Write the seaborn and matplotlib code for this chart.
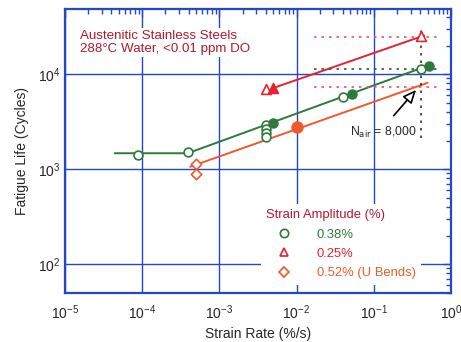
import numpy as np
import pandas as pd
import seaborn as sns
import matplotlib.pyplot as plt

# strain amplitude 0.38 %
green_open_x = [8.8e-5, 3.9e-4, 4.0e-3, 4.0e-3, 4.0e-3, 4.0e-3, 0.040, 0.41]
green_open_y = [1410, 1520, 2930, 2650, 2410, 2190, 5770, 11400]
green_fill_x = [4.9e-3, 0.052, 0.52]
green_fill_y = [3070, 6200, 12200]
green_line_x = [4.4e-5, 3.9e-4, 0.55]
green_line_y = [1470, 1470, 12600]

# strain amplitude 0.25 %
red_open_x = [4.0e-3, 0.41]
red_open_y = [7000, 25000]
red_fill_x = [4.9e-3]
red_fill_y = [7100]
red_line_x = [4.9e-3, 0.45]
red_line_y = [7100, 25500]

# strain amplitude 0.52 % (U bends)
orange_open_x = [5.0e-4, 5.0e-4]
orange_open_y = [1130, 890]
orange_fill_x = [0.010]
orange_fill_y = [2770]
orange_line_x = [4.2e-4, 0.50]
orange_line_y = [1060, 8100]

# reference lines
ref_x = [0.017, 0.70]
ref_red_hi = 24700
ref_green = 11400
ref_red_lo = 7350
nair_x = 0.41
nair_y = [2140, 32000]

GREEN = '#2c7a3c'
RED = '#e52330'
ORANGE = '#f05a2a'
DKRED = '#b3182d'
BLUE = '#2447c4'

sns.set_style('white')
plt.rcParams['font.family'] = ['Liberation Sans', 'DejaVu Sans']

fig = plt.figure(figsize=(4.61, 3.42), dpi=100)
ax = fig.add_axes([0.141, 0.144, 0.837, 0.830])
ax.set_xscale('log')
ax.set_yscale('log')

def line(xs, ys, color, **kw):
    df = pd.DataFrame({'x': xs, 'y': ys})
    sns.lineplot(data=df, x='x', y='y', color=color, estimator=None, sort=False, ax=ax, **kw)

line(green_line_x, green_line_y, GREEN, lw=1.4)
line(red_line_x, red_line_y, RED, lw=1.4)
line(orange_line_x, orange_line_y, ORANGE, lw=1.4)

# dotted guides
line(ref_x, [ref_red_hi] * 2, '#f0506a', lw=1.2, linestyle=(0, (1.5, 3)))
line(ref_x, [ref_green] * 2, '#2a5a3a', lw=1.2, linestyle=(0, (1.5, 3)))
line(ref_x, [ref_red_lo] * 2, '#f0506a', lw=1.2, linestyle=(0, (1.5, 3)))
line([nair_x, nair_x], nair_y, '#333333', lw=1.2, linestyle=(0, (1.5, 3)))

def pts(xs, ys, marker, color, filled, size=40):
    df = pd.DataFrame({'x': xs, 'y': ys})
    sns.scatterplot(data=df, x='x', y='y', marker=marker, s=size, ax=ax, zorder=5,
                    facecolor=color if filled else 'white', edgecolor=color, linewidth=1.2)

pts(green_open_x, green_open_y, 'o', GREEN, False)
pts(green_fill_x, green_fill_y, 'o', GREEN, True)
pts(red_open_x, red_open_y, '^', RED, False, 50)
pts(red_fill_x, red_fill_y, '^', RED, True, 50)
pts(orange_open_x, orange_open_y, 'D', ORANGE, False, 28)
pts(orange_fill_x, orange_fill_y, 'o', ORANGE, True, 60)

ax.set_xlim(1e-5, 1)
ax.set_ylim(50, 48600)
ax.grid(True, which='major', color=BLUE, lw=1.0)
for s in ax.spines.values():
    s.set_color(BLUE)
    s.set_linewidth(1.6)
ax.tick_params(which='both', direction='in', top=True, right=True, color=BLUE, labelsize=10)
ax.tick_params(which='major', length=6, width=1)
ax.tick_params(which='minor', length=3.5, width=1)
ax.tick_params(axis='x', pad=8)
ax.set_xlabel('Strain Rate (%/s)', fontsize=10, labelpad=3)
ax.set_ylabel('Fatigue Life (Cycles)', fontsize=10, labelpad=6)

ax.text(0.039, 0.925, 'Austenitic Stainless Steels\n288°C Water, <0.01 ppm DO',
        transform=ax.transAxes, color=DKRED, fontsize=9.6, va='top', linespacing=1.05,
        bbox=dict(facecolor='white', edgecolor='none', pad=1.5))

ax.annotate('', xy=(0.374, 7180), xytext=(0.172, 3470),
            arrowprops=dict(arrowstyle='-|>,head_length=0.8,head_width=0.35', fc='white', ec='black', lw=1.2))
ax.text(0.049, 2450, 'N$_{\\mathrm{air}}$ = 8,000', fontsize=8.8, va='center')

handles = [
    plt.Line2D([], [], ls='', marker='o', mfc='white', mec=GREEN, mew=1.2, ms=6),
    plt.Line2D([], [], ls='', marker='^', mfc='white', mec=RED, mew=1.2, ms=6),
    plt.Line2D([], [], ls='', marker='D', mfc='white', mec=ORANGE, mew=1.2, ms=5),
]
leg = ax.legend(handles, ['0.38%', '0.25%', '0.52% (U Bends)'], loc='upper left',
                bbox_to_anchor=(0.49, 0.335), frameon=True, facecolor='white', edgecolor='none',
                framealpha=1, fancybox=False, title='Strain Amplitude (%)',
                fontsize=9.4, title_fontsize=9.4, handlelength=2.8, handletextpad=1.1,
                labelspacing=0.55, alignment='left', labelcolor=[GREEN, RED, ORANGE])
leg.get_title().set_color(DKRED)

fig.savefig('out.png', dpi=100)
